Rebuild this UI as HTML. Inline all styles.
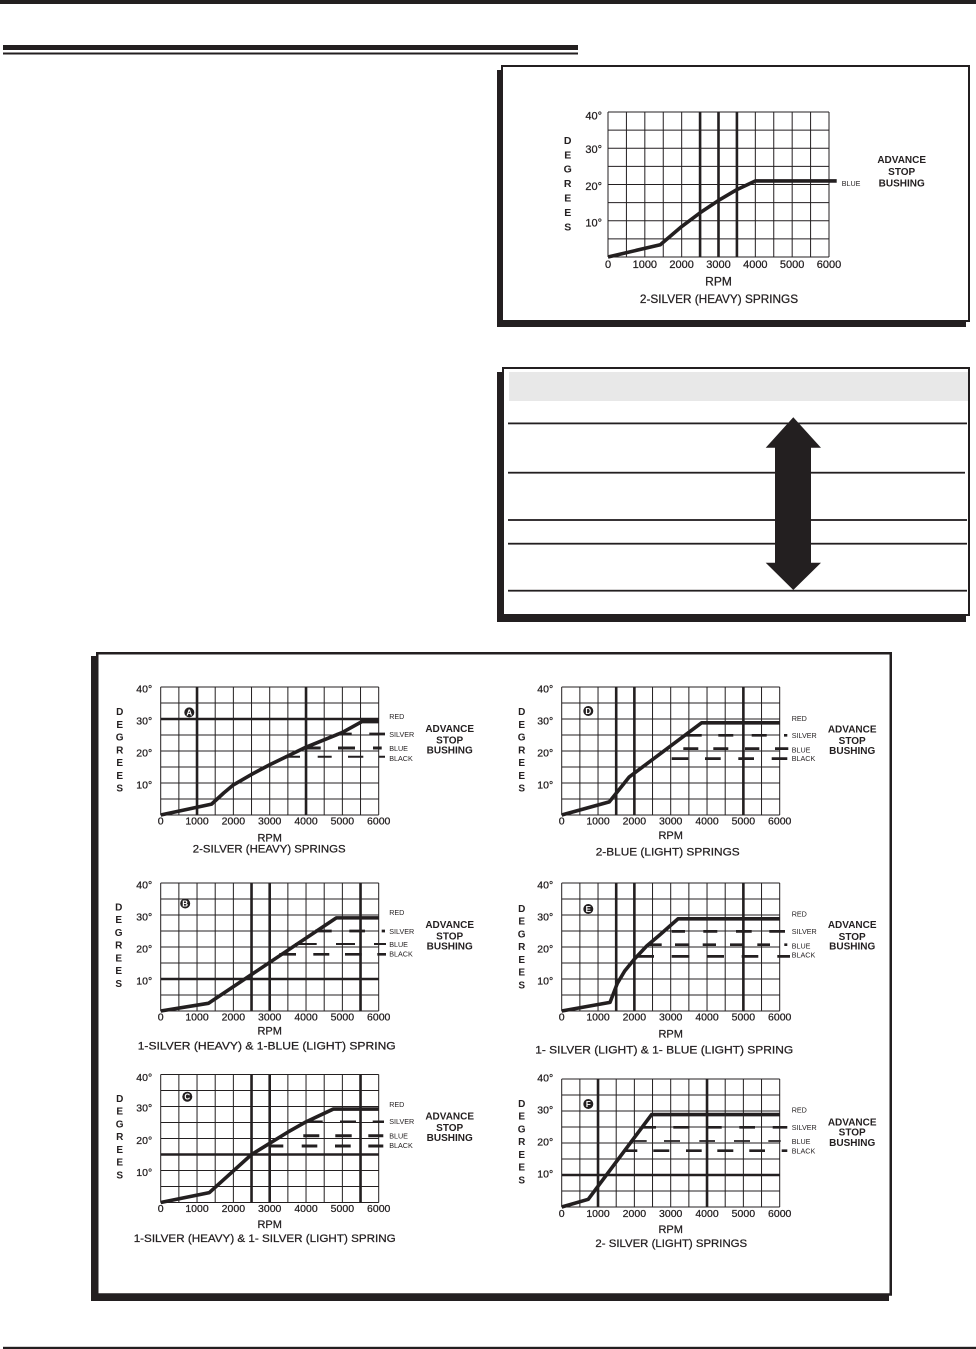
<!DOCTYPE html>
<html><head><meta charset="utf-8"><style>
html,body{margin:0;padding:0;background:#fff;width:976px;height:1349px;overflow:hidden}
svg{display:block}
text{font-family:"Liberation Sans",Arial,Helvetica,sans-serif;fill:#231f20}
.y{font-size:10.5px;text-anchor:end;stroke:#231f20;stroke-width:0.25}
.x{font-size:10.5px;text-anchor:middle;stroke:#231f20;stroke-width:0.25}
.r{font-size:11px;text-anchor:middle;stroke:#231f20;stroke-width:0.25}
.c{font-size:11.4px;text-anchor:middle;stroke:#231f20;stroke-width:0.25}
.d{font-size:10px;font-weight:bold;text-anchor:middle}
.l{font-size:7.2px}
.a{font-size:10px;font-weight:bold;text-anchor:middle}
.b{font-size:8px;font-weight:bold;text-anchor:middle;fill:#fff}
.g{fill:none;stroke:#231f20;stroke-width:1}
.k{fill:none;stroke:#231f20;stroke-width:2.6}
.v{fill:none;stroke:#231f20;stroke-width:3.6;stroke-linejoin:round}
.s{fill:none;stroke:#231f20}
</style></head><body>
<svg width="976" height="1349" viewBox="0 0 976 1349" fill="#231f20">
<defs>
<path id="gb" class="g" d="M0 0V128M18.17 0V128M36.33 0V128M54.5 0V128M72.67 0V128M90.83 0V128M109 0V128M127.17 0V128M145.33 0V128M163.5 0V128M181.67 0V128M199.83 0V128M218 0V128M0 0H218M0 16H218M0 32H218M0 48H218M0 64H218M0 80H218M0 96H218M0 112H218M0 128H218"/>
</defs>

<!-- page rules -->
<rect x="0" y="0" width="976" height="4"/>
<rect x="3" y="45" width="575" height="5"/>
<rect x="3" y="52.5" width="575" height="2"/>
<rect x="3" y="1346.8" width="973" height="2.4"/>

<!-- top box -->
<rect x="497" y="70" width="469" height="257"/>
<rect x="502" y="66" width="467" height="255" fill="#fff" stroke="#231f20" stroke-width="2"/>

<g transform="translate(608,112)">
<path class="g" d="M0 0V145M18.42 0V145M36.83 0V145M55.25 0V145M73.67 0V145M92.08 0V145M110.5 0V145M128.92 0V145M147.33 0V145M165.75 0V145M184.17 0V145M202.58 0V145M221 0V145M0 0H221M0 18.13H221M0 36.25H221M0 54.38H221M0 72.5H221M0 90.63H221M0 108.75H221M0 126.88H221M0 145H221"/>
<path class="k" d="M92.08 0V145M110.5 0V145M128.92 0V145"/>
<polyline class="v" stroke-width="3.8" points="0,145 52.3,132.7 73.67,114.55 92.08,100.8 110.5,88.45 128.92,77.6 147.5,68.9 228.7,68.9"/>
<text class="y" style="font-size:11px" x="-6" y="7.7">40°</text>
<text class="y" style="font-size:11px" x="-6" y="41">30°</text>
<text class="y" style="font-size:11px" x="-6" y="78">20°</text>
<text class="y" style="font-size:11px" x="-6" y="114.3">10°</text>
<text class="x" style="font-size:11px" x="0" y="156">0</text>
<text class="x" style="font-size:11px" x="36.83" y="156">1000</text>
<text class="x" style="font-size:11px" x="73.67" y="156">2000</text>
<text class="x" style="font-size:11px" x="110.5" y="156">3000</text>
<text class="x" style="font-size:11px" x="147.33" y="156">4000</text>
<text class="x" style="font-size:11px" x="184.17" y="156">5000</text>
<text class="x" style="font-size:11px" x="221" y="156">6000</text>
<text class="r" style="font-size:12px" x="110.5" y="173.7">RPM</text>
<text class="c" style="font-size:11.8px" x="111" y="191">2-SILVER (HEAVY) SPRINGS</text>
<text class="d" style="font-size:10.5px" x="-40.3" y="31.8">D</text>
<text class="d" style="font-size:10.5px" x="-40.3" y="46.25">E</text>
<text class="d" style="font-size:10.5px" x="-40.3" y="60.7">G</text>
<text class="d" style="font-size:10.5px" x="-40.3" y="75.15">R</text>
<text class="d" style="font-size:10.5px" x="-40.3" y="89.6">E</text>
<text class="d" style="font-size:10.5px" x="-40.3" y="104.05">E</text>
<text class="d" style="font-size:10.5px" x="-40.3" y="118.5">S</text>
<text class="l" x="233.7" y="73.8">BLUE</text>
<text class="a" x="293.7" y="50.9">ADVANCE</text>
<text class="a" x="293.7" y="62.9">STOP</text>
<text class="a" x="293.7" y="74.3">BUSHING</text>
</g>

<!-- table box -->
<rect x="497" y="372" width="469" height="250"/>
<rect x="503" y="368" width="466" height="247" fill="#fff" stroke="#231f20" stroke-width="2"/>
<rect x="509" y="372" width="459" height="29" fill="#e8e8e8"/>
<rect x="508" y="422.5" width="459" height="1.8"/>
<rect x="508" y="471.8" width="457" height="1.8"/>
<rect x="508" y="519.1" width="459" height="1.8"/>
<rect x="508" y="542.8" width="459" height="1.8"/>
<rect x="508" y="589.8" width="459" height="1.8"/>
<polygon points="793.3,417.3 821,447.7 811,447.7 811,562.7 821,562.7 793.3,590 765.7,562.7 775,562.7 775,447.7 765.7,447.7"/>

<!-- bottom box -->
<rect x="91" y="656" width="798" height="645"/>
<rect x="97.25" y="653.25" width="793.5" height="641.25" fill="#fff" stroke="#231f20" stroke-width="2.5"/>

<!-- Chart A -->
<g transform="translate(160.7,687)">
<use href="#gb"/>
<path class="k" d="M36.33 0V128M145.33 0V128M0 32H218"/>
<polyline class="v" points="0,128 50.87,117.12 63,106 72.67,97.92 90.83,87.4 109,77.76 145.33,60.16 181.67,45.44 201.29,34.56 218,34.56"/>
<path class="s" stroke-width="2.7" d="M176 47H191M208.6 47H224.3"/>
<path class="s" stroke-width="3" d="M142.3 61H160M177.3 61H194.3M212.3 61H221"/>
<path class="s" stroke-width="2" d="M127 69.8H139.3M157 69.8H171M187.3 69.8H202.6M218.3 69.8H224.3"/>
<text class="y" x="-8.5" y="5.5">40°</text><text class="y" x="-8.5" y="37.5">30°</text><text class="y" x="-8.5" y="69.5">20°</text><text class="y" x="-8.5" y="101.5">10°</text>
<text class="x" x="0" y="137.5">0</text><text class="x" x="36.33" y="137.5">1000</text><text class="x" x="72.67" y="137.5">2000</text><text class="x" x="109" y="137.5">3000</text><text class="x" x="145.33" y="137.5">4000</text><text class="x" x="181.67" y="137.5">5000</text><text class="x" x="218" y="137.5">6000</text>
<text class="r" x="109" y="154.3">RPM</text>
<text class="c" x="108.5" y="165.6">2-SILVER (HEAVY) SPRINGS</text>
<text class="d" x="-41" y="28.1">D</text><text class="d" x="-41" y="40.85">E</text><text class="d" x="-41" y="53.6">G</text><text class="d" x="-41" y="66.35">R</text><text class="d" x="-41" y="79.1">E</text><text class="d" x="-41" y="91.85">E</text><text class="d" x="-41" y="104.6">S</text>
<text class="l" x="228.5" y="32.2">RED</text><text class="l" x="228.5" y="49.8">SILVER</text><text class="l" x="228.5" y="64.2">BLUE</text><text class="l" x="228.5" y="73.8">BLACK</text>
<text class="a" x="289" y="45.2">ADVANCE</text><text class="a" x="289" y="56.4">STOP</text><text class="a" x="289" y="66.4">BUSHING</text>
<circle cx="28.6" cy="25.4" r="5"/><text class="b" x="28.6" y="28.3">A</text>
</g>

<!-- Chart B -->
<g transform="translate(160.7,883)">
<use href="#gb"/>
<path class="k" d="M90.83 0V128M109 0V128M199.83 0V128M0 96H218"/>
<polyline class="v" points="0,128 47.67,120.32 175.64,34.88 218,34.88"/>
<path class="s" stroke-width="2.7" d="M154.3 48H171M188.6 48H204.3M221 48H224.3"/>
<path class="s" stroke-width="2" d="M134.3 61H156M175.3 61H194.3M213.3 61H225.3"/>
<path class="s" stroke-width="2.7" d="M118.6 71.3H135.3M152.6 71.3H168.6M184.3 71.3H201M216.6 71.3H225.3"/>
<text class="y" x="-8.5" y="5.5">40°</text><text class="y" x="-8.5" y="37.5">30°</text><text class="y" x="-8.5" y="69.5">20°</text><text class="y" x="-8.5" y="101.5">10°</text>
<text class="x" x="0" y="137.5">0</text><text class="x" x="36.33" y="137.5">1000</text><text class="x" x="72.67" y="137.5">2000</text><text class="x" x="109" y="137.5">3000</text><text class="x" x="145.33" y="137.5">4000</text><text class="x" x="181.67" y="137.5">5000</text><text class="x" x="218" y="137.5">6000</text>
<text class="r" x="109" y="151.6">RPM</text>
<text class="c" x="106" y="166.3" textLength="258" lengthAdjust="spacingAndGlyphs">1-SILVER (HEAVY) &amp; 1-BLUE (LIGHT) SPRING</text>
<text class="d" x="-42" y="27.3">D</text><text class="d" x="-42" y="40.05">E</text><text class="d" x="-42" y="52.8">G</text><text class="d" x="-42" y="65.55">R</text><text class="d" x="-42" y="78.3">E</text><text class="d" x="-42" y="91.05">E</text><text class="d" x="-42" y="103.8">S</text>
<text class="l" x="228.5" y="32.2">RED</text><text class="l" x="228.5" y="50.8">SILVER</text><text class="l" x="228.5" y="64.2">BLUE</text><text class="l" x="228.5" y="73.5">BLACK</text>
<text class="a" x="289" y="45.2">ADVANCE</text><text class="a" x="289" y="56.4">STOP</text><text class="a" x="289" y="66.4">BUSHING</text>
<circle cx="24.5" cy="20.5" r="5"/><text class="b" x="24.5" y="23.4">B</text>
</g>

<!-- Chart C -->
<g transform="translate(160.7,1074.5)">
<use href="#gb"/>
<path class="k" d="M90.83 0V128M109 0V128M199.83 0V128M0 80H218"/>
<polyline class="v" points="0,128 48.69,118.08 90.83,80 109,68.8 127.17,57.6 145.33,47.36 172.58,34.56 218,34.56"/>
<path class="s" stroke-width="2.5" d="M147.6 47.2H162M179.3 47.2H195.3M212 47.2H223.3"/>
<path class="s" stroke-width="3" d="M142.6 61.2H158.6M174.6 61.2H191M207.6 61.2H222.6"/>
<path class="s" stroke-width="3" d="M109.3 71.5H122.6M141 71.5H156.6M174.3 71.5H190M207.6 71.5H222.6"/>
<text class="y" x="-8.5" y="6.3">40°</text><text class="y" x="-8.5" y="37">30°</text><text class="y" x="-8.5" y="69.5">20°</text><text class="y" x="-8.5" y="101.5">10°</text>
<text class="x" x="0" y="137.5">0</text><text class="x" x="36.33" y="137.5">1000</text><text class="x" x="72.67" y="137.5">2000</text><text class="x" x="109" y="137.5">3000</text><text class="x" x="145.33" y="137.5">4000</text><text class="x" x="181.67" y="137.5">5000</text><text class="x" x="218" y="137.5">6000</text>
<text class="r" x="109" y="153.4">RPM</text>
<text class="c" x="104" y="167.4" textLength="262" lengthAdjust="spacingAndGlyphs">1-SILVER (HEAVY) &amp; 1- SILVER (LIGHT) SPRING</text>
<text class="d" x="-41" y="27.4">D</text><text class="d" x="-41" y="40.15">E</text><text class="d" x="-41" y="52.9">G</text><text class="d" x="-41" y="65.65">R</text><text class="d" x="-41" y="78.4">E</text><text class="d" x="-41" y="91.15">E</text><text class="d" x="-41" y="103.9">S</text>
<text class="l" x="228.5" y="32.3">RED</text><text class="l" x="228.5" y="49.7">SILVER</text><text class="l" x="228.5" y="64">BLUE</text><text class="l" x="228.5" y="73.7">BLACK</text>
<text class="a" x="289" y="45.2">ADVANCE</text><text class="a" x="289" y="56.4">STOP</text><text class="a" x="289" y="66.4">BUSHING</text>
<circle cx="26.6" cy="22.2" r="5"/><text class="b" x="26.6" y="25.1">C</text>
</g>

<!-- Chart D -->
<g transform="translate(561.7,687)">
<use href="#gb"/>
<path class="k" d="M54.5 0V128M72.67 0V128M181.67 0V128"/>
<polyline class="v" points="0,128 47.6,114.88 67.58,89.92 139.88,35.84 218,35.84"/>
<path class="s" stroke-width="2.7" d="M122.6 48.3H140M156.6 48.3H171.6M190 48.3H205M222.3 48.3H225.6"/>
<path class="s" stroke-width="2.7" d="M121.6 61.6H136.6M151.6 61.6H166.6M183.3 61.6H197.6M213.3 61.6H226.6"/>
<path class="s" stroke-width="2.7" d="M110 71.6H126.6M143.3 71.6H159M176.6 71.6H192.3M210 71.6H225.6"/>
<text class="y" x="-8.5" y="5.5">40°</text><text class="y" x="-8.5" y="37.5">30°</text><text class="y" x="-8.5" y="69.5">20°</text><text class="y" x="-8.5" y="101.5">10°</text>
<text class="x" x="0" y="137.5">0</text><text class="x" x="36.33" y="137.5">1000</text><text class="x" x="72.67" y="137.5">2000</text><text class="x" x="109" y="137.5">3000</text><text class="x" x="145.33" y="137.5">4000</text><text class="x" x="181.67" y="137.5">5000</text><text class="x" x="218" y="137.5">6000</text>
<text class="r" x="109" y="151.9">RPM</text>
<text class="c" x="106" y="168.6" textLength="144" lengthAdjust="spacingAndGlyphs">2-BLUE (LIGHT) SPRINGS</text>
<text class="d" x="-40" y="28.1">D</text><text class="d" x="-40" y="40.85">E</text><text class="d" x="-40" y="53.6">G</text><text class="d" x="-40" y="66.35">R</text><text class="d" x="-40" y="79.1">E</text><text class="d" x="-40" y="91.85">E</text><text class="d" x="-40" y="104.6">S</text>
<text class="l" x="230" y="33.8">RED</text><text class="l" x="230" y="51.2">SILVER</text><text class="l" x="230" y="65.5">BLUE</text><text class="l" x="230" y="74">BLACK</text>
<text class="a" x="290.5" y="45.6">ADVANCE</text><text class="a" x="290.5" y="57">STOP</text><text class="a" x="290.5" y="67">BUSHING</text>
<circle cx="26.6" cy="24" r="5"/><text class="b" x="26.6" y="26.9">D</text>
</g>

<!-- Chart E -->
<g transform="translate(561.7,883)">
<use href="#gb"/>
<path class="k" d="M54.5 0V128M72.67 0V128M181.67 0V128"/>
<polyline class="v" points="0,128 48.32,119.36 55.59,100.48 63,88 72.67,76.16 85,63 98.1,51.84 116.27,35.84 218,35.84"/>
<path class="s" stroke-width="2.7" d="M110 48.4H123.3M141.6 48.4H155.6M174.3 48.4H190M207.6 48.4H223.3"/>
<path class="s" stroke-width="2.7" d="M86.6 61.7H100M113.3 61.7H127.6M141 61.7H154.3M168.3 61.7H181.6M195.6 61.7H208.3M222.6 61.7H225.6"/>
<path class="s" stroke-width="2.7" d="M75 73.4H92.3M110 73.4H127.6M145.6 73.4H162.3M180 73.4H196.6M215.6 73.4H228.3"/>
<text class="y" x="-8.5" y="5.5">40°</text><text class="y" x="-8.5" y="37.5">30°</text><text class="y" x="-8.5" y="69.5">20°</text><text class="y" x="-8.5" y="101.5">10°</text>
<text class="x" x="0" y="137.5">0</text><text class="x" x="36.33" y="137.5">1000</text><text class="x" x="72.67" y="137.5">2000</text><text class="x" x="109" y="137.5">3000</text><text class="x" x="145.33" y="137.5">4000</text><text class="x" x="181.67" y="137.5">5000</text><text class="x" x="218" y="137.5">6000</text>
<text class="r" x="109" y="154.6">RPM</text>
<text class="c" x="102.5" y="170.6" textLength="258" lengthAdjust="spacingAndGlyphs">1- SILVER (LIGHT) &amp; 1- BLUE (LIGHT) SPRING</text>
<text class="d" x="-40" y="28.9">D</text><text class="d" x="-40" y="41.65">E</text><text class="d" x="-40" y="54.4">G</text><text class="d" x="-40" y="67.15">R</text><text class="d" x="-40" y="79.9">E</text><text class="d" x="-40" y="92.65">E</text><text class="d" x="-40" y="105.4">S</text>
<text class="l" x="230" y="33.5">RED</text><text class="l" x="230" y="51.2">SILVER</text><text class="l" x="230" y="65.5">BLUE</text><text class="l" x="230" y="74.5">BLACK</text>
<text class="a" x="290.5" y="45.2">ADVANCE</text><text class="a" x="290.5" y="57">STOP</text><text class="a" x="290.5" y="66.6">BUSHING</text>
<circle cx="26.6" cy="26" r="5"/><text class="b" x="26.6" y="28.9">E</text>
</g>

<!-- Chart F -->
<g transform="translate(561.7,1079)">
<use href="#gb"/>
<path class="k" d="M36.33 0V128M145.33 0V128M0 96H218"/>
<polyline class="v" points="0,128 26.56,120.32 89.89,35.52 218,35.52"/>
<path class="s" stroke-width="2.7" d="M80 48.3H94.3M111.6 48.3H127.6M145 48.3H160M177.6 48.3H193.3M211 48.3H225.6"/>
<path class="s" stroke-width="1.8" d="M68.3 62H85M102.3 62H118.3M137.6 62H153.3M172.3 62H188.3M206.6 62H219"/>
<path class="s" stroke-width="2.7" d="M62.3 71.7H75.6M91.6 71.7H107.6M124.3 71.7H140M155.6 71.7H171.6M187.6 71.7H203.3M220 71.7H225.6"/>
<text class="y" x="-8.5" y="2.5">40°</text><text class="y" x="-8.5" y="34.5">30°</text><text class="y" x="-8.5" y="66.5">20°</text><text class="y" x="-8.5" y="98.5">10°</text>
<text class="x" x="0" y="137.9">0</text><text class="x" x="36.33" y="137.9">1000</text><text class="x" x="72.67" y="137.9">2000</text><text class="x" x="109" y="137.9">3000</text><text class="x" x="145.33" y="137.9">4000</text><text class="x" x="181.67" y="137.9">5000</text><text class="x" x="218" y="137.9">6000</text>
<text class="r" x="109" y="153.9">RPM</text>
<text class="c" x="109.6" y="167.9">2- SILVER (LIGHT) SPRINGS</text>
<text class="d" x="-40" y="27.9">D</text><text class="d" x="-40" y="40.65">E</text><text class="d" x="-40" y="53.4">G</text><text class="d" x="-40" y="66.15">R</text><text class="d" x="-40" y="78.9">E</text><text class="d" x="-40" y="91.65">E</text><text class="d" x="-40" y="104.4">S</text>
<text class="l" x="230" y="33.5">RED</text><text class="l" x="230" y="50.8">SILVER</text><text class="l" x="230" y="65.2">BLUE</text><text class="l" x="230" y="74.5">BLACK</text>
<text class="a" x="290.5" y="46.3">ADVANCE</text><text class="a" x="290.5" y="56.3">STOP</text><text class="a" x="290.5" y="66.9">BUSHING</text>
<circle cx="26.6" cy="25" r="5"/><text class="b" x="26.6" y="27.9">F</text>
</g>
</svg>
</body></html>
